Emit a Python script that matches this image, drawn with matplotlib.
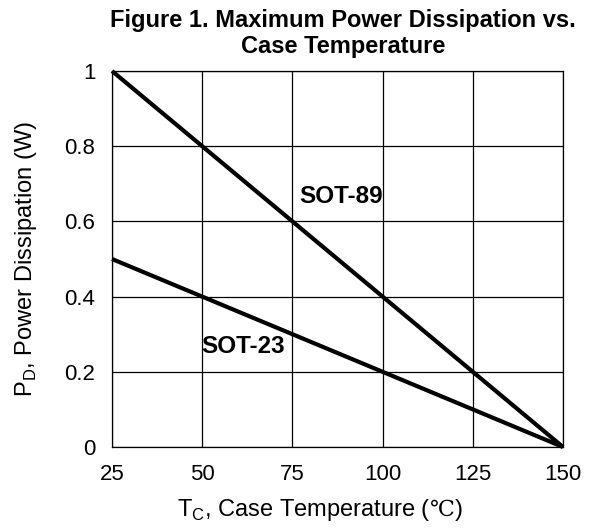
import matplotlib
matplotlib.use("Agg")
import matplotlib.pyplot as plt
from matplotlib.offsetbox import TextArea, HPacker, AnchoredOffsetbox

# data
temp = [25, 150]
sot89 = [1.0, 0.0]
sot23 = [0.5, 0.0]
x_ticks = [25, 50, 75, 100, 125, 150]
y_ticks = [0, 0.2, 0.4, 0.6, 0.8, 1]
y_tick_labels = ["0", "0.2", "0.4", "0.6", "0.8", "1"]

plt.rcParams['font.family'] = ['Liberation Sans', 'DejaVu Sans']
plt.rcParams['mathtext.fontset'] = 'custom'
plt.rcParams['mathtext.rm'] = 'Liberation Sans'

fig = plt.figure(figsize=(5.98, 5.30), dpi=100)
ax = fig.add_axes([112 / 598, 83 / 530, 451 / 598, 376 / 530])

ax.plot(temp, sot89, color='black', lw=3.0, clip_on=False, solid_capstyle='butt', zorder=3)
ax.plot(temp, sot23, color='black', lw=3.0, clip_on=False, solid_capstyle='butt', zorder=3)

ax.set_xlim(25, 150)
ax.set_ylim(0, 1)
ax.set_xticks(x_ticks)
ax.set_yticks(y_ticks)
ax.set_yticklabels(y_tick_labels)
ax.tick_params(length=0, labelsize=16, pad=12)
ax.grid(True, color='black', lw=0.9)
for s in ax.spines.values():
    s.set_color('black')
    s.set_linewidth(0.9)

ax.text(77, 0.665, "SOT-89", fontsize=17.5, fontweight='bold', va='center', ha='left')
ax.text(49.8, 0.266, "SOT-23", fontsize=17.5, fontweight='bold', va='center', ha='left')

# x label: the degree sign is in a serif face in the original
parts = [
    TextArea(r"T$_\mathregular{C}$, Case Temperature (", textprops=dict(fontsize=17)),
    TextArea("℃", textprops=dict(fontsize=16, family=['DejaVu Serif', 'Noto Sans CJK SC'])),
    TextArea(")", textprops=dict(fontsize=17)),
]
xl = HPacker(children=parts, align='baseline', pad=0, sep=0)
box = AnchoredOffsetbox(loc='center', child=xl, frameon=False,
                        bbox_to_anchor=(0.535, 20 / 530), bbox_transform=fig.transFigure,
                        borderpad=0, pad=0)
fig.add_artist(box)

ax.set_ylabel(r"P$_\mathregular{D}$, Power Dissipation (W)", fontsize=17, labelpad=18)
fig.text(0.574, 0.937, "Figure 1. Maximum Power Dissipation vs.\nCase Temperature",
         ha='center', va='center', fontsize=17, fontweight='bold', linespacing=1.2)

fig.savefig("out.png", dpi=100)
